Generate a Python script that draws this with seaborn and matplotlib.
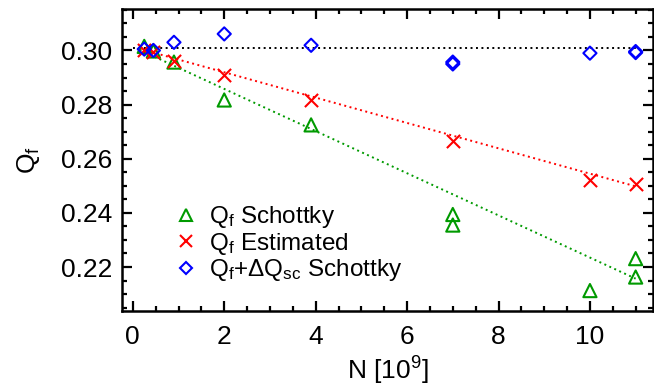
import numpy as np
import pandas as pd
import matplotlib
matplotlib.use("Agg")
import matplotlib.pyplot as plt
import seaborn as sns
from matplotlib.lines import Line2D
from matplotlib.ticker import MultipleLocator

# ---- data ----
n_schottky = [0.25, 0.45, 0.9, 2.0, 3.9, 7.0, 7.0, 10.0, 11.0, 11.0]
q_schottky = [0.3015, 0.2998, 0.2957, 0.2817, 0.2725, 0.2394, 0.2355, 0.2113, 0.2231, 0.2163]

n_estimated = [0.25, 0.45, 0.9, 2.0, 3.9, 7.0, 10.0, 11.0]
q_estimated = [0.3003, 0.2995, 0.2961, 0.2909, 0.2818, 0.2665, 0.2522, 0.2505]

n_corrected = [0.25, 0.45, 0.9, 2.0, 3.9, 7.0, 7.0, 10.0, 11.0, 11.0]
q_corrected = [0.3005, 0.3000, 0.3030, 0.3061, 0.3019, 0.2957, 0.2950, 0.2990, 0.2996, 0.2992]

# fitted trend lines (end points)
fit_n = [0.15, 11.0]
fit_schottky = [0.3002, 0.2157]
fit_estimated = [0.3006, 0.2498]
fit_flat_n = [0.0, 11.0]
fit_flat = [0.3010, 0.3010]

labels = [r'Q$_\mathrm{f}$ Schottky', r'Q$_\mathrm{f}$ Estimated',
          r'Q$_\mathrm{f}$+$\Delta$Q$_\mathrm{sc}$ Schottky']

GREEN = '#009A00'
RED = '#FF0000'
BLUE = '#0000FF'

sns.set_theme(style='ticks')
plt.rcParams['font.family'] = ['Liberation Sans', 'DejaVu Sans']
plt.rcParams['mathtext.fontset'] = 'custom'
plt.rcParams['mathtext.rm'] = 'Liberation Sans'
plt.rcParams['mathtext.it'] = 'Liberation Sans:italic'
plt.rcParams['text.color'] = 'black'
plt.rcParams['axes.labelcolor'] = 'black'
plt.rcParams['xtick.color'] = 'black'
plt.rcParams['ytick.color'] = 'black'

fig = plt.figure(figsize=(6.54, 3.87), dpi=100)
ax = fig.add_axes([0.187, 0.196, 0.8115, 0.78])

dots = dict(linestyle=(0, (1, 1.8)), linewidth=1.4)
sns.lineplot(x=fit_flat_n, y=fit_flat, color='black', ax=ax, **dots)
sns.lineplot(x=fit_n, y=fit_schottky, color=GREEN, ax=ax, **dots)
sns.lineplot(x=fit_n, y=fit_estimated, color=RED, ax=ax, **dots)

sns.scatterplot(x=n_schottky, y=q_schottky, marker='^', s=90, facecolor='none',
                edgecolor=GREEN, linewidth=1.5, ax=ax, zorder=3)
sns.scatterplot(x=n_estimated, y=q_estimated, marker='x', s=90, color=RED,
                linewidth=1.5, ax=ax, zorder=3)
sns.scatterplot(x=n_corrected, y=q_corrected, marker='D', s=45, facecolor='none',
                edgecolor=BLUE, linewidth=1.5, ax=ax, zorder=3)

ax.set_xlim(-0.23, 11.38)
ax.set_ylim(0.2037, 0.3152)
ax.xaxis.set_major_locator(MultipleLocator(2))
ax.xaxis.set_minor_locator(MultipleLocator(0.5))
ax.yaxis.set_major_locator(MultipleLocator(0.02))
ax.yaxis.set_minor_locator(MultipleLocator(0.005))
ax.yaxis.set_major_formatter(matplotlib.ticker.FormatStrFormatter('%.2f'))
ax.tick_params(which='both', direction='in', top=True, right=True,
               labelsize=19, width=1.6, color='black', labelcolor='black')
ax.tick_params(axis='x', which='both', pad=10)
ax.tick_params(axis='y', which='both', pad=7)
ax.tick_params(which='major', length=7)
ax.tick_params(which='minor', length=3.5)
for sp in ax.spines.values():
    sp.set_visible(True)
    sp.set_linewidth(1.8)
    sp.set_color('black')

ax.set_xlabel(r'N [10$^9$]', fontsize=19, labelpad=4, color='black')
ax.set_ylabel(r'Q$_\mathrm{f}$', fontsize=19, labelpad=14, color='black')

handles = [
    Line2D([], [], linestyle='', marker='^', markersize=9, markerfacecolor='none',
           markeredgecolor=GREEN, markeredgewidth=1.5),
    Line2D([], [], linestyle='', marker='x', markersize=9, color=RED,
           markeredgewidth=1.5),
    Line2D([], [], linestyle='', marker='D', markersize=6.5, markerfacecolor='none',
           markeredgecolor=BLUE, markeredgewidth=1.5),
]
leg = ax.legend(handles, labels, loc='lower left', bbox_to_anchor=(0.078, 0.06),
                frameon=False, fontsize=17.5, handlelength=1.0, handletextpad=0.45,
                labelspacing=0.02, borderaxespad=0)
for t in leg.get_texts():
    t.set_color('black')

fig.savefig('out.png', dpi=100)
